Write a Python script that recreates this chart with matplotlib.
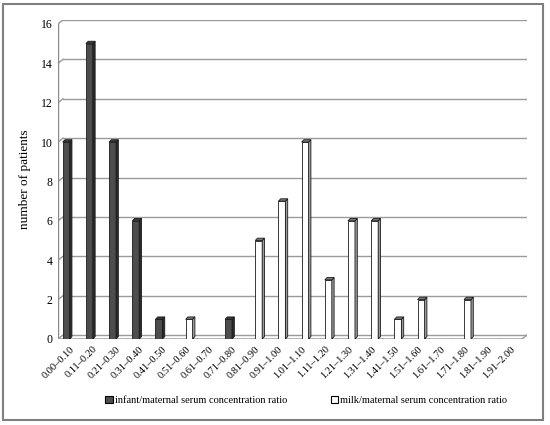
import matplotlib.pyplot as plt
from matplotlib.patches import Polygon, Patch, Rectangle

# ratio classes and counts
categories = ['0.00–0.10', '0.11–0.20', '0.21–0.30', '0.31–0.40', '0.41–0.50',
              '0.51–0.60', '0.61–0.70', '0.71–0.80', '0.81–0.90', '0.91–1.00',
              '1.01–1.10', '1.11–1.20', '1.21–1.30', '1.31–1.40', '1.41–1.50',
              '1.51–1.60', '1.61–1.70', '1.71–1.80', '1.81–1.90', '1.91–2.00']
infant = [10, 15, 10, 6, 1, 0, 0, 1, 0, 0, 0, 0, 0, 0, 0, 0, 0, 0, 0, 0]
milk = [0, 0, 0, 0, 0, 1, 0, 0, 5, 7, 10, 3, 6, 6, 1, 2, 0, 2, 0, 0]
yticks = [0, 2, 4, 6, 8, 10, 12, 14, 16]

plt.rcParams['font.family'] = ['Liberation Serif', 'DejaVu Serif']

fig = plt.figure(figsize=(5.5, 4.25), dpi=100)
ax = fig.add_axes([0.1055, 0.2024, 0.8527, 0.7506])

n = len(categories)
wdx, wdy = 0.215, 0.2     # wall depth
bdx, bdy = 0.1, 0.12      # bar depth
bw = 0.3

# back wall gridlines + diagonal wall segments
for v in yticks:
    ax.plot([-0.5 + wdx, n - 0.5 + wdx], [v + wdy, v + wdy], color='#9a9a9a', lw=1, zorder=1)
    ax.plot([-0.5, -0.5 + wdx], [v, v + wdy], color='#9a9a9a', lw=1, zorder=1)
    ax.plot([-0.5, -0.58], [v, v], color='#7a7a7a', lw=0.8, zorder=1)
# left axis line and floor
ax.plot([-0.5, -0.5], [0, yticks[-1]], color='#8a8a8a', lw=1, zorder=1)
ax.plot([-0.5, n - 0.5, n - 0.5 + wdx], [0, 0, wdy], color='#9a9a9a', lw=1, zorder=1)
for i in range(n + 1):
    ax.plot([i - 0.5, i - 0.56], [0, -0.15], color='#8a8a8a', lw=0.8, zorder=1)


def draw_bars(vals, offset, face, side, top, edge):
    for i, v in enumerate(vals):
        if v == 0:
            continue
        x0 = i + offset
        ax.bar(x0, v, width=bw, align='edge', color=face, edgecolor=edge, lw=0.6, zorder=3)
        ax.add_patch(Polygon([(x0 + bw, 0), (x0 + bw + bdx, bdy), (x0 + bw + bdx, v + bdy), (x0 + bw, v)],
                             closed=True, facecolor=side, edgecolor=edge, lw=0.6, zorder=3))
        ax.add_patch(Polygon([(x0, v), (x0 + bdx, v + bdy), (x0 + bw + bdx, v + bdy), (x0 + bw, v)],
                             closed=True, facecolor=top, edgecolor=edge, lw=0.6, zorder=3))


draw_bars(infant, -0.3, '#4d4d4d', '#2b2b2b', '#3a3a3a', '#1a1a1a')
draw_bars(milk, 0.0, 'white', '#9a9a9a', '#7a7a7a', '#1a1a1a')

ax.set_xlim(-0.5, n - 0.5 + wdx)
ax.set_ylim(0, yticks[-1] + wdy)
ax.set_xticks(range(n))
ax.set_xticklabels(categories, rotation=45, ha='right', va='top', rotation_mode='anchor', fontsize=7.5)
ax.set_yticks(yticks)
ax.set_yticklabels([str(v) for v in yticks], fontsize=8.5)
ax.tick_params(length=0, pad=4)
ax.tick_params(axis='x', pad=4)
for s in ax.spines.values():
    s.set_visible(False)
ax.set_ylabel('number of patients', fontsize=9.5, labelpad=7)

handles = [Patch(facecolor='#4d4d4d', edgecolor='black', lw=0.8, label='infant/maternal serum concentration ratio'),
           Patch(facecolor='white', edgecolor='black', lw=0.8, label='milk/maternal serum concentration ratio')]
fig.legend(handles=handles, loc='center', bbox_to_anchor=(0.557, 0.057), ncol=2, frameon=False,
           fontsize=7.5, handlelength=0.7, handleheight=0.7, handletextpad=0.2, columnspacing=4.2)

# outer frame
fig.patches.append(Rectangle((0.006, 0.012), 0.982, 0.978, transform=fig.transFigure,
                             fill=False, edgecolor='#7f7f7f', lw=1.5))

fig.savefig('out.png', dpi=100)
